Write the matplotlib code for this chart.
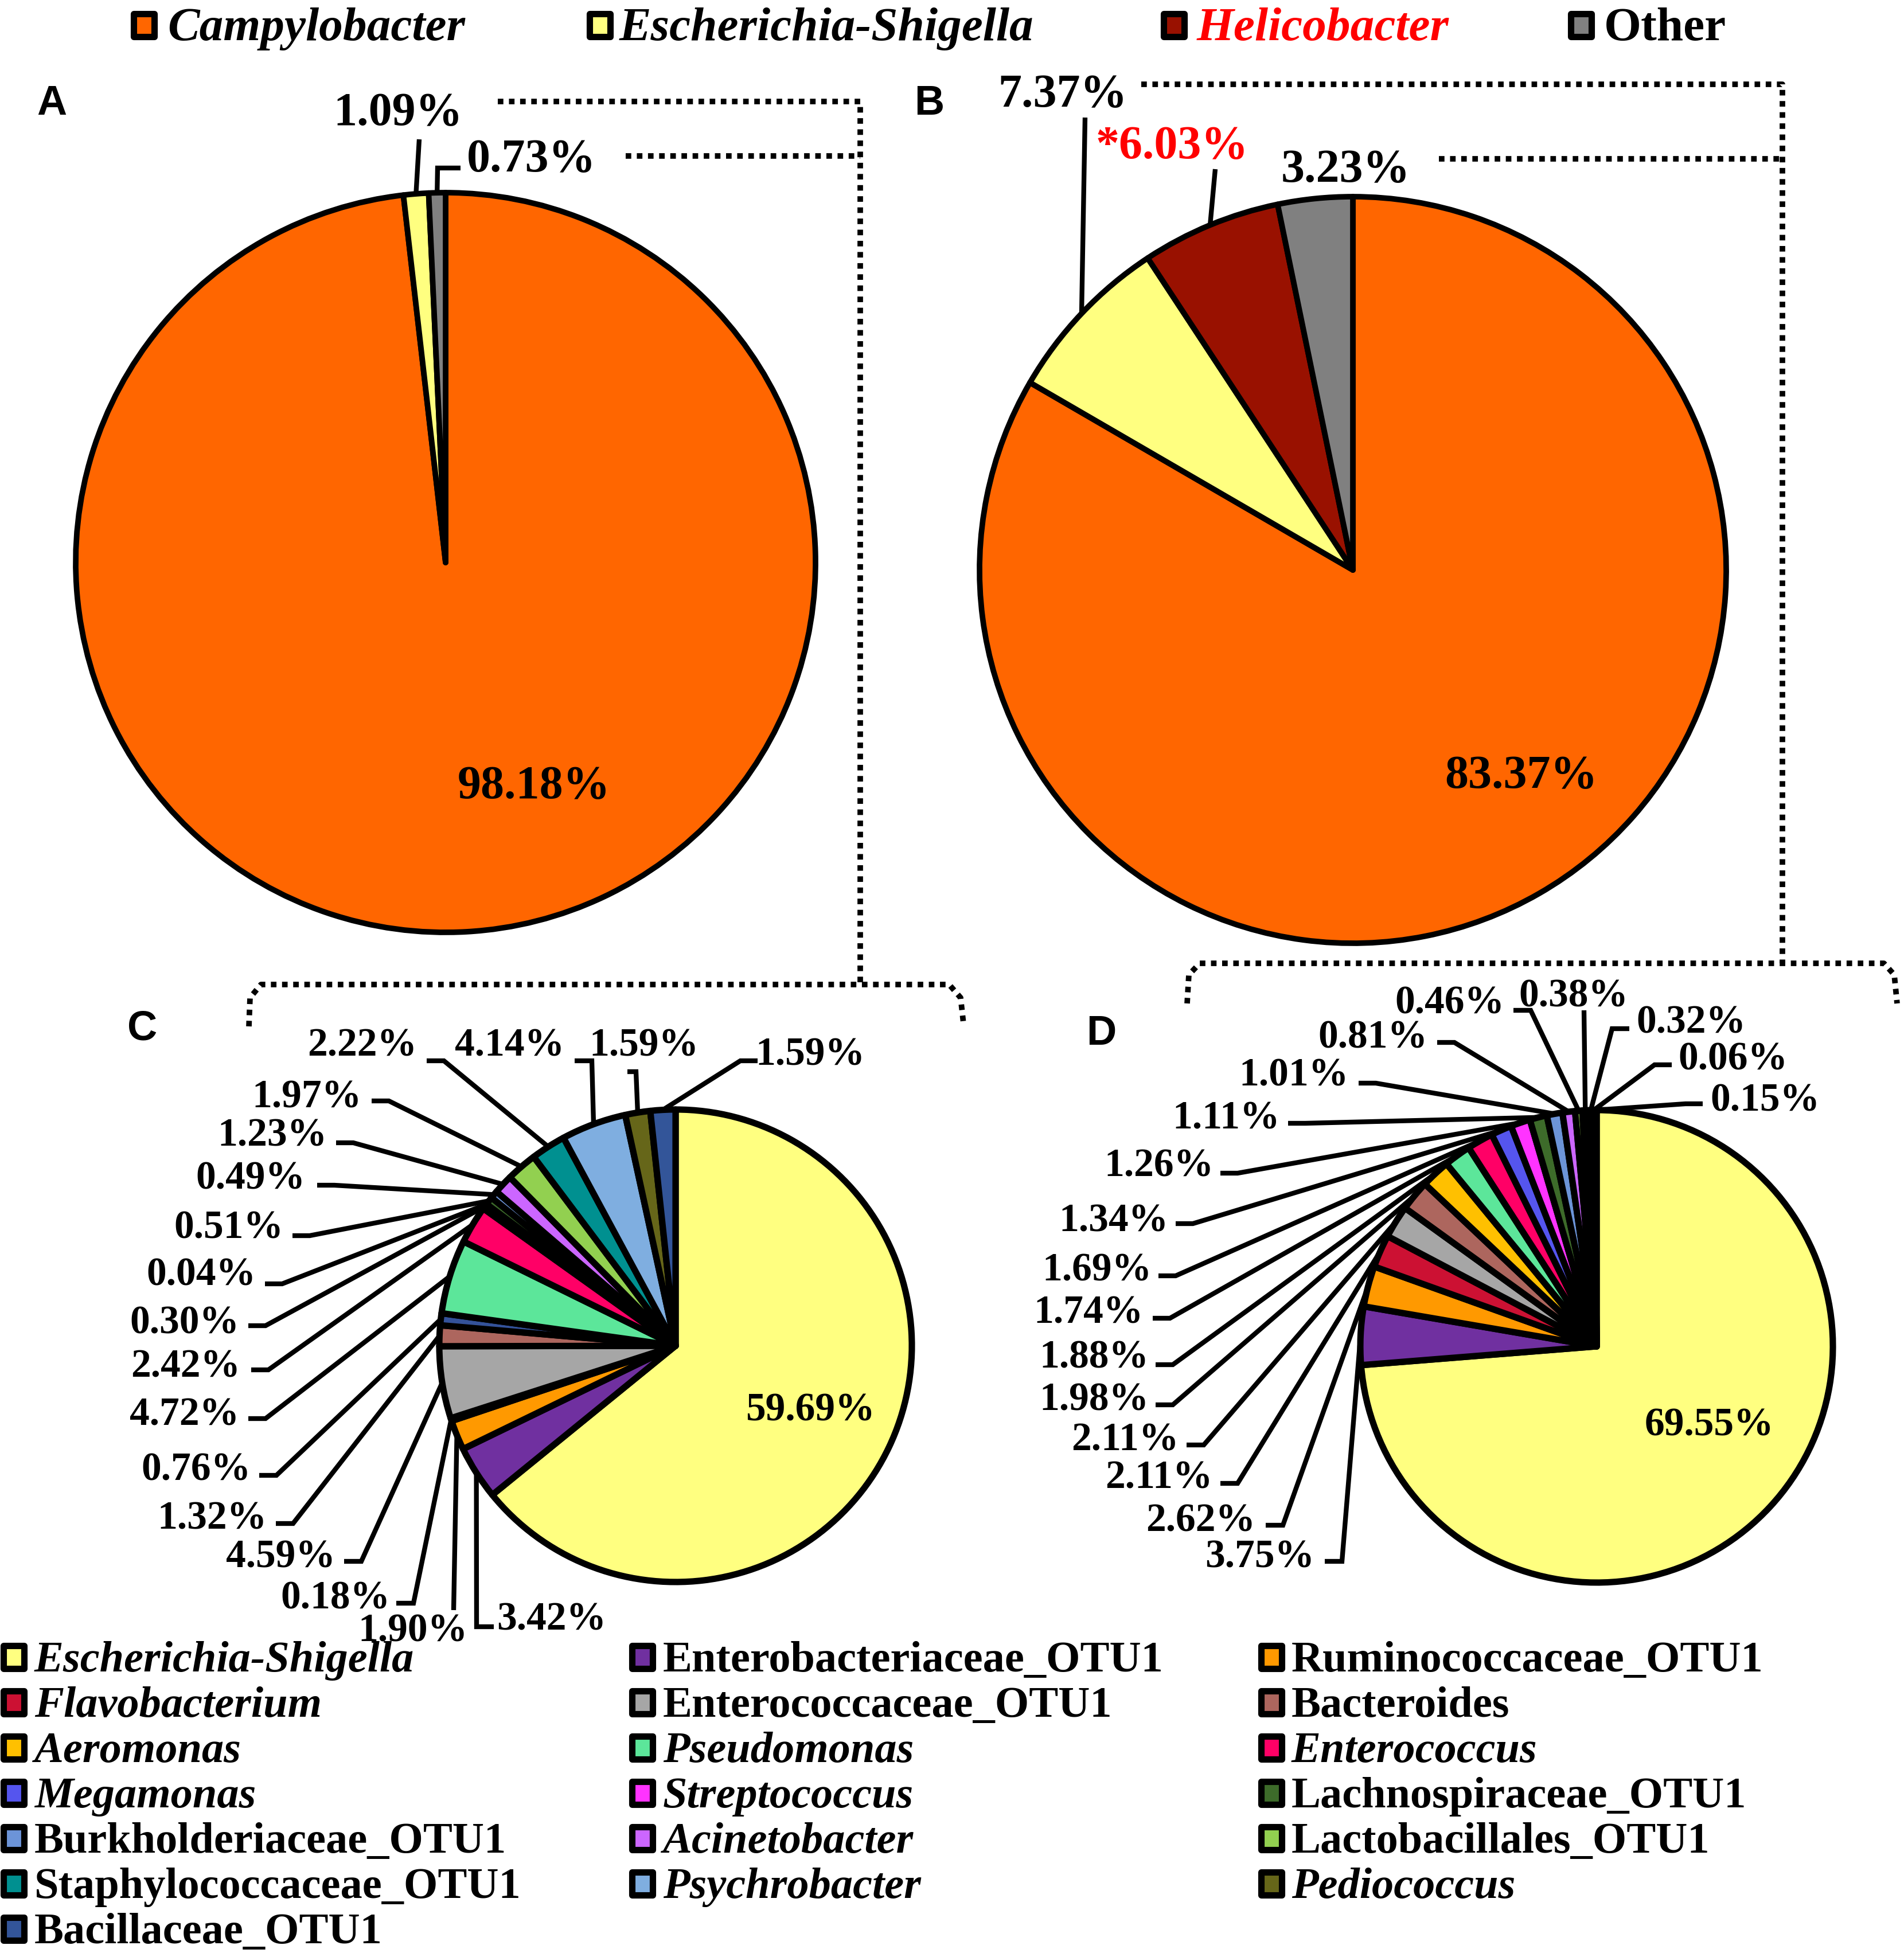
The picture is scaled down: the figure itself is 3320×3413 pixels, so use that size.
import matplotlib
matplotlib.use("Agg")
import matplotlib.pyplot as plt
from matplotlib.patches import Rectangle
import numpy as np

W, H = 3320, 3413  # canvas in pixels

# ---- data ----
top_names = ["Campylobacter", "Escherichia-Shigella", "Helicobacter", "Other"]
top_italic = [True, True, True, False]
top_colors = ["#FF6600", "#FFFF80", "#991100", "#808080"]

pie_a = [98.18, 1.09, 0.73]          # Campylobacter, Escherichia-Shigella, Other
pie_b = [83.37, 7.37, 6.03, 3.23]    # Campylobacter, Escherichia-Shigella, Helicobacter, Other

genus_names = ["Escherichia-Shigella", "Enterobacteriaceae_OTU1", "Ruminococcaceae_OTU1",
               "Flavobacterium", "Enterococcaceae_OTU1", "Bacteroides",
               "Aeromonas", "Pseudomonas", "Enterococcus",
               "Megamonas", "Streptococcus", "Lachnospiraceae_OTU1",
               "Burkholderiaceae_OTU1", "Acinetobacter", "Lactobacillales_OTU1",
               "Staphylococcaceae_OTU1", "Psychrobacter", "Pediococcus",
               "Bacillaceae_OTU1"]
genus_italic = [True, False, False, True, False, False, True, True, True,
                True, True, False, False, True, False, False, True, True, False]
genus_colors = ["#FFFF80", "#7030A0", "#FF9900", "#CC1133", "#A6A6A6", "#AD665E",
                "#FFC000", "#5CE69A", "#FF0066", "#5555EE", "#FF33FF", "#3D6B2A",
                "#6C94D8", "#CC66FF", "#92D050", "#009090", "#7FAEE0", "#666619",
                "#335599"]

pie_c = [59.69, 3.42, 1.90, 0.18, 4.59, 1.32, 0.76, 4.72, 2.42, 0.30,
         0.04, 0.51, 0.49, 1.23, 1.97, 2.22, 4.14, 1.59, 1.59]
pie_d = [69.55, 3.75, 2.62, 2.11, 2.11, 1.98, 1.88, 1.74, 1.69, 1.34,
         1.26, 1.11, 1.01, 0.81, 0.46, 0.38, 0.32, 0.06, 0.15]

# ---- layout (image pixel coords, y down) ----
# label text centre, leader knee, elbow direction (-1 left, +1 right, 0 none)
c_text = [(962, 2815), (720, 2835), (585, 2778), (489, 2706), (370, 2639), (342, 2554),
          (322, 2459), (324, 2375), (322, 2298), (351, 2215), (399, 2133), (437, 2046),
          (475, 1971), (535, 1904), (632, 1814), (889, 1814), (1123, 1814), (1413, 1831)]
c_knee = [(831, 2837), (791, 2808), (721, 2796), (630, 2723), (511, 2657), (482, 2573),
          (463, 2474), (468, 2389), (463, 2312), (492, 2239), (540, 2155), (583, 2067),
          (616, 1993), (678, 1920), (774, 1850), (1032, 1850), (1109, 1869), (1291, 1850)]
c_dir = [1, 0] + [-1] * 15 + [1]

d_text = [(2197, 2706), (2094, 2643), (2021, 2569), (1962, 2502), (1908, 2432), (1908, 2359),
          (1898, 2281), (1913, 2206), (1942, 2120), (2021, 2025), (2138, 1941), (2256, 1867),
          (2394, 1801), (2528, 1741), (2744, 1729), (2949, 1774), (3022, 1839), (3078, 1910)]
d_knee = [(2340, 2723), (2237, 2660), (2158, 2587), (2099, 2520), (2045, 2450), (2045, 2380),
          (2040, 2299), (2050, 2225), (2080, 2134), (2158, 2046), (2276, 1959), (2399, 1889),
          (2536, 1818), (2669, 1762), (2762, 1762), (2811, 1794), (2885, 1857), (2939, 1925)]
d_dir = [-1] * 14 + [0, 1, 1, 1]

SERIF = "Liberation Serif"
SANS = "Liberation Sans"
TEXT_DY = 10  # matplotlib centres a little high compared with the original

fig = plt.figure(figsize=(W / 100, H / 100), dpi=100)
ax = fig.add_axes([0, 0, 1, 1])


def Y(y):
    return H - y


def draw_pie(vals, colors, cx, cy, r, lw):
    wedges, _ = ax.pie(vals, colors=colors, startangle=90, counterclock=False,
                       radius=r, center=(cx, Y(cy)), frame=True,
                       wedgeprops=dict(edgecolor="black", linewidth=lw, joinstyle="round"))
    return wedges


def anchor(w, frac=1.0):
    a = np.deg2rad((w.theta1 + w.theta2) / 2)
    x, y = w.center
    return x + w.r * frac * np.cos(a), y + w.r * frac * np.sin(a)


def leader(w, knee, d, elbow=30):
    x0, y0 = anchor(w)
    kx, ky = knee[0], Y(knee[1])
    xs, ys = [x0, kx], [y0, ky]
    if d:
        xs.append(kx + d * elbow)
        ys.append(ky)
    ax.plot(xs, ys, color="black", lw=6, solid_capstyle="butt",
            solid_joinstyle="miter", zorder=3)


def label(x, y, s, size, color="black"):
    ax.text(x, Y(y + TEXT_DY), s, ha="center", va="center", fontsize=size,
            fontweight="bold", family=SERIF, color=color, zorder=4)


def dotted(pts):
    xs = [p[0] for p in pts]
    ys = [Y(p[1]) for p in pts]
    ax.plot(xs, ys, color="black", lw=7, linestyle=(0, (1, 1)),
            dash_capstyle="butt", zorder=2)


# ---- pies A and B ----
wa = draw_pie(pie_a, [top_colors[0], top_colors[1], top_colors[3]], 777, 981, 645, 7)
wb = draw_pie(pie_b, top_colors, 2359, 994, 651, 7)

label(931, 1363, f"{pie_a[0]:.2f}%", 59)
label(694, 189, f"{pie_a[1]:.2f}%", 59)
leader(wa[1], (731, 243), 0)
label(927, 270, f"{pie_a[2]:.2f}%", 59)
leader(wa[2], (763, 293), 1, elbow=40)

label(2652, 1345, f"{pie_b[0]:.2f}%", 59)
label(1853, 157, f"{pie_b[1]:.2f}%", 59)
leader(wb[1], (1892, 205), 0)
label(2044, 247, f"*{pie_b[2]:.2f}%", 59, color="#FF0000")
leader(wb[2], (2119, 295), 0)
label(2346, 288, f"{pie_b[3]:.2f}%", 59)

# ---- pies C and D ----
c_colors = list(genus_colors)
c_colors[6] = "#34529A"
wc = draw_pie(pie_c, c_colors, 1178, 2347, 412, 8)
wd = draw_pie(pie_d, genus_colors, 2784, 2348, 412, 8)

label(1413, 2450, f"{pie_c[0]:.2f}%", 50)
for i in range(1, len(pie_c)):
    tx, ty = c_text[i - 1]
    label(tx, ty, f"{pie_c[i]:.2f}%", 50)
    leader(wc[i], c_knee[i - 1], c_dir[i - 1], elbow=15 if i == 17 else 30)

label(2980, 2476, f"{pie_d[0]:.2f}%", 50)
for i in range(1, len(pie_d)):
    tx, ty = d_text[i - 1]
    label(tx, ty, f"{pie_d[i]:.2f}%", 50)
    leader(wd[i], d_knee[i - 1], d_dir[i - 1])

# ---- dotted connectors ----
dotted([(868, 177), (1500, 177), (1500, 1715)])
dotted([(1091, 272), (1500, 272)])
dotted([(434, 1790), (436, 1740), (455, 1717), (1655, 1717), (1675, 1740), (1680, 1785)])
dotted([(1990, 147), (3108, 147), (3108, 1680)])
dotted([(2509, 277), (3108, 277)])
dotted([(2070, 1750), (2073, 1700), (2092, 1680), (3285, 1680), (3303, 1700), (3308, 1750)])

# ---- panel letters ----
for s, (x, y) in zip("ABCD", [(90, 181), (1620, 181), (248, 1795), (1920, 1803)]):
    ax.text(x, Y(y), s, ha="center", va="center", fontsize=52,
            fontweight="bold", family=SANS)


def marker(cx, cy, color):
    ax.add_patch(Rectangle((cx - 18, Y(cy) - 20), 36, 40, facecolor=color,
                           edgecolor="black", linewidth=8, joinstyle="round",
                           zorder=4))


# ---- top legend ----
top_mx = [251, 1046, 2047, 2757]
top_tx = [292, 1080, 2087, 2797]
for i, name in enumerate(top_names):
    marker(top_mx[i], 44, top_colors[i])
    ax.text(top_tx[i], Y(70), name, ha="left", va="baseline", fontsize=60,
            fontweight="bold", family=SERIF,
            style="italic" if top_italic[i] else "normal",
            color="#FF0000" if name == "Helicobacter" else "black")

# ---- bottom legend ----
col_mx = [24, 1120, 2217]
col_tx = [60, 1156, 2252]
for i, name in enumerate(genus_names):
    row, col = divmod(i, 3)
    base = 2915 + 79 * row
    marker(col_mx[col], base - 25, genus_colors[i])
    ax.text(col_tx[col], Y(base), name, ha="left", va="baseline", fontsize=55,
            fontweight="bold", family=SERIF,
            style="italic" if genus_italic[i] else "normal")

ax.set_xlim(0, W)
ax.set_ylim(0, H)
ax.set_aspect("auto")
ax.axis("off")
fig.savefig("out.png", dpi=100, facecolor="white")
